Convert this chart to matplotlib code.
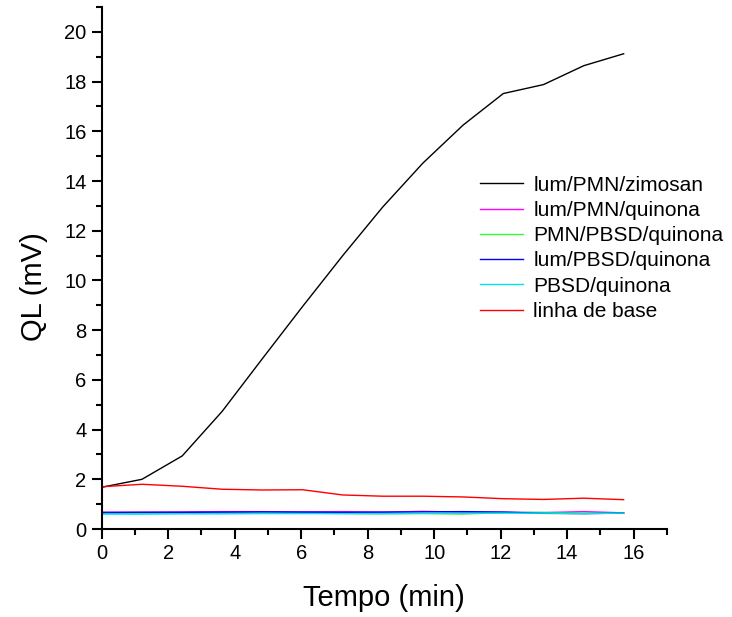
import matplotlib
matplotlib.use('Agg')
import matplotlib.pyplot as plt
from matplotlib.ticker import MultipleLocator

plt.rcParams['font.family'] = ['Liberation Sans', 'DejaVu Sans']

# tempo (min), leitura a cada ~1.2 min
tempo = [0, 1.21, 2.42, 3.62, 4.83, 6.04, 7.25, 8.45, 9.66, 10.87, 12.08, 13.29, 14.5, 15.7]

zimosan = [1.68, 2.0, 2.94, 4.73, 6.85, 8.95, 11.0, 12.95, 14.72, 16.25, 17.52, 17.88, 18.64, 19.12]
pmn_quinona = [0.68, 0.68, 0.69, 0.70, 0.70, 0.69, 0.70, 0.68, 0.71, 0.68, 0.68, 0.66, 0.70, 0.65]
pmn_pbsd = [0.62, 0.62, 0.63, 0.63, 0.64, 0.64, 0.62, 0.61, 0.62, 0.60, 0.66, 0.67, 0.63, 0.64]
lum_pbsd = [0.66, 0.67, 0.67, 0.68, 0.69, 0.68, 0.67, 0.68, 0.69, 0.70, 0.68, 0.63, 0.62, 0.64]
pbsd_quinona = [0.60, 0.60, 0.61, 0.61, 0.62, 0.62, 0.62, 0.62, 0.63, 0.63, 0.64, 0.64, 0.62, 0.64]
linha_base = [1.70, 1.80, 1.72, 1.60, 1.57, 1.58, 1.37, 1.32, 1.32, 1.29, 1.22, 1.19, 1.24, 1.18]

series = [
    ('lum/PMN/zimosan', zimosan, 'black'),
    ('lum/PMN/quinona', pmn_quinona, '#ff00ff'),
    ('PMN/PBSD/quinona', pmn_pbsd, '#33ff33'),
    ('lum/PBSD/quinona', lum_pbsd, '#0000ff'),
    ('PBSD/quinona', pbsd_quinona, '#00e5e5'),
    ('linha de base', linha_base, '#ff0000'),
]

fig = plt.figure(figsize=(7.32, 6.17), dpi=100)
ax = fig.add_axes([0.139, 0.1426, 0.772, 0.846])

for nome, y, cor in series:
    ax.plot(tempo, y, color=cor, lw=1.0, label=nome)

ax.set_xlim(0, 17)
ax.set_ylim(0, 21)
ax.xaxis.set_major_locator(MultipleLocator(2))
ax.xaxis.set_minor_locator(MultipleLocator(1))
ax.yaxis.set_major_locator(MultipleLocator(2))
ax.yaxis.set_minor_locator(MultipleLocator(1))

for s in ['top', 'right']:
    ax.spines[s].set_visible(False)
for s in ['left', 'bottom']:
    ax.spines[s].set_linewidth(1.5)

ax.tick_params(which='major', direction='out', length=7, width=1.5, labelsize=14.5, pad=4)
ax.tick_params(which='minor', direction='out', length=4, width=1.5)

ax.set_xlabel('Tempo (min)', fontsize=21, labelpad=15)
ax.set_ylabel('QL (mV)', fontsize=21)
ax.yaxis.set_label_coords(-0.095, 0.464)

ax.legend(loc='upper left', bbox_to_anchor=(0.654, 0.693), frameon=False,
          fontsize=15, handlelength=2.1, handletextpad=0.48, labelspacing=0.3,
          borderaxespad=0)

fig.savefig('out.png', dpi=100)
